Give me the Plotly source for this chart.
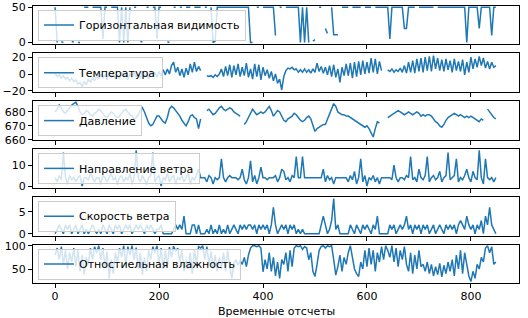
import plotly.graph_objects as go
from plotly.subplots import make_subplots

N = None
# time index (every 4th sample of the series, 0..848)
t = list(range(0, 849, 4))

names = ["Горизонтальная видимость", "Температура", "Давление",
         "Направление ветра", "Скорость ветра", "Отностиельная влажность"]

visibility = [
    50, 0, N, 1, 0, N, N, N, 1, 1,
    N, 0, 0, N, 50, 50, 50, N, 50, 50,
    50, 50, 50, 5, 50, 50, N, 50, 50, 50,
    50, 0, 50, 0, 50, 0, 50, N, 50, 50,
    N, 1, 1, N, 50, 50, N, 50, 50, 5,
    50, 50, N, N, 1, 0, N, 50, 50, N,
    50, 50, N, 50, 50, 50, N, 50, 50, 50,
    50, N, 50, 50, N, 50, 0, 2, 50, 50,
    50, 50, 50, 50, 50, 50, 50, 50, 50, 50,
    50, 50, 50, 50, 0, 0, N, 50, 50, N,
    50, 50, 50, 50, 50, 50, 10, N, 50, 50,
    N, 50, 50, 50, 50, 50, 50, 50, 0, 50,
    0, 50, 0, N, 2, 4, N, 50, 50, N,
    20, 13, N, 50, 11, 11, 11, N, 50, 50,
    50, 50, N, 50, 50, 50, 50, 50, N, 50,
    50, 50, 50, N, 50, 50, 50, 50, 50, 50,
    50, 5, 50, 50, 50, 50, 50, 50, 20, 20,
    50, 50, 50, 50, N, 50, 50, 50, 50, 50,
    50, 50, 50, N, 50, 50, 50, 50, 50, 50,
    50, 50, 50, 50, 50, 50, 50, 50, 0, 50,
    50, 50, 50, 50, 20, 50, 50, 50, 50, 50,
    10, 50, 50]

temperature = [
    0, -3, -1, -5, -2, -6, -4, -8, -5, -9,
    -7, -12, -10, -15, -9, -13, -6, -10, -4, -8,
    -2, -6, 0, -5, -1, -7, 1, -4, 0, -6,
    -1, -6, 2, -4, 0, -7, 1, -5, 2, -3,
    0, -5, 3, -3, 1, -6, 4, -2, 2, -4,
    3, -2, 5, -1, 6, 0, 10, 14, 2, 8,
    -2, 6, -4, 7, -1, 12, 2, 14, 3, 9,
    4, N, N, -2, -3, -2, -4, -1, -3, 0,
    6, -3, 9, -2, 11, -4, 10, -1, 12, -3,
    8, -2, 13, -4, 6, -6, 12, -3, 11, -7,
    8, -2, 5, -5, 3, -8, 0, -11, -6, -19,
    -3, 4, 7, 6, 8, 5, 6, 2, 5, 2,
    6, 2, 5, 1, 6, 2, 13, 3, 9, 1,
    8, -1, 10, -3, 11, -4, 6, -10, 8, -2,
    12, -2, 13, -5, 14, -3, 15, -1, 16, 0,
    14, 1, 19, 2, 18, 0, 15, 4, N, N,
    5, 3, 6, 2, 5, 3, 7, 2, 10, 1,
    14, 2, 16, 1, 18, 3, 19, 2, 20, 4,
    21, 3, 22, 6, 19, 4, 17, 3, 18, 5,
    16, 2, 18, 4, 15, 3, 17, -1, 14, 2,
    20, 6, 18, 8, 21, 10, 19, 7, 15, 6,
    14, 8, 10]

pressure = [
    680, 682, 685, 683, 680, 679, 681, 683, 685, 686,
    687, 684, 680, 678, 679, 681, 680, 678, 677, 679,
    680, 682, 681, 679, 677, 676, 678, 680, 679, 677,
    676, 677, 679, 681, 682, 680, 678, 677, 675, 676,
    678, 681, 683, 680, 676, 672, 670, 671, 674, 677,
    677, 675, 673, 672, 676, 682, 684, 683, 681, 679,
    677, 674, 672, 670, 673, 677, 678, 676, 675, 668,
    675, N, N, 681, 682, 680, 678, 679, 681, 683,
    684, 682, 681, 682, 683, 682, 680, 679, 678, 677,
    N, 671, 673, 676, 679, 682, 680, 678, 679, 680,
    679, 680, 682, 684, 681, 677, 679, 681, 680, 677,
    674, 673, 675, 676, 677, 679, 678, 676, 674, 673,
    674, 676, 677, 675, 671, 666, 668, 669, 670, 671,
    671, 675, 679, 683, 686, 684, 680, 679, 678, 678,
    677, 677, 676, 675, 674, 673, 672, 671, 670, 669,
    670, 668, 665, 662, 668, 673, 672, N, N, N,
    676, 677, 678, 679, 680, 681, 680, 679, 678, 679,
    680, 679, 678, 679, 680, 679, 677, 678, 677, 678,
    678, 677, 675, 673, 672, 670, 669, 671, 674, 676,
    677, 678, 679, 678, 677, 678, 677, 676, 677, 676,
    677, 676, 675, 674, 673, 675, 674, N, 682, 680,
    678, 676, 675]

wind_dir = [
    4, 2, 5, 3, 16, 4, 1, 5, 3, 4,
    2, 4, 5, 0, 4, 4, 3, 6, 4, 2,
    4, 4, 1, 5, 4, 2, 4, 6, 3, 4,
    1, 4, 5, 2, 4, 3, 6, 1, 4, 17,
    4, 2, 5, 3, 1, 4, 5, 16, 2, 4,
    5, 0, 4, 3, 6, 2, 4, 5, 1, 4,
    3, 5, 2, 4, 6, 1, 4, 3, 5, 8,
    4, 4, 4, 2, 5, 4, 1, 4, 3, 4,
    13, 4, 2, 4, 5, 4, 4, 4, 3, 4,
    8, 3, 1, 4, 12, 2, 5, 1, 4, 9,
    4, 4, 3, 4, 4, 4, 5, 2, 4, 8,
    7, 3, 4, 2, 5, 4, 14, 4, 4, 14,
    4, 4, 4, 4, 4, 4, 4, 4, 4, 8,
    2, 5, 3, 4, 1, 4, 4, 4, 4, 4,
    4, 2, 5, 3, 7, 1, 4, 13, 2, 5,
    0, 4, 3, 5, 2, 4, 1, 4, 4, 4,
    4, 4, 3, 10, 4, 2, 4, 4, 3, 5,
    4, 14, 3, 4, 2, 8, 4, 3, 5, 14,
    2, 4, 5, 3, 4, 7, 2, 4, 5, 16,
    3, 4, 5, 13, 2, 4, 3, 5, 8, 4,
    2, 7, 4, 3, 17, 4, 1, 13, 4, 3,
    4, 2, 4]

wind_speed = [
    0, 1, 2, 1, 0, 2, 1, 2, 0, 1,
    2, 0, 1, 2, 0, 1, 0, 1, 2, 1,
    0, 1, 0, 2, 1, 0, 2, 1, 0, 2,
    1, 2, 0, 1, 2, 1, 2, 0, 1, 2,
    1, 2, 1, 0, 2, 1, 2, 1, 0, 1,
    1, 2, 0, 0, 0, 0, 0, 1, 2, 1,
    2, 1, 4, 0, 0, 0, 2, 2, 0, 2,
    0, 0, 0, 1, 0, 2, 0, 1, 0, 2,
    0, 1, 0, 2, 0, 1, 2, 1, 0, 2,
    1, 2, 1, 2, 2, 1, 2, 0, 2, 1,
    2, 1, 2, 0, 2, 6, 2, 0, 1, 2,
    1, 2, 0, 2, 1, 2, 0, 1, 0, 1,
    0, 0, 0, 0, 0, 0, 0, 0, 2, 4,
    2, 0, 1, 3, 8, 1, 2, 0, 0, 0,
    0, 0, 2, 1, 0, 2, 1, 0, 2, 1,
    2, 1, 0, 2, 1, 4, 0, 0, 0, 0,
    0, 2, 1, 2, 0, 1, 2, 1, 2, 4,
    1, 2, 0, 2, 1, 2, 0, 2, 1, 2,
    0, 1, 2, 0, 1, 2, 1, 0, 2, 1,
    2, 1, 2, 0, 2, 3, 2, 1, 4, 2,
    1, 2, 0, 2, 1, 3, 0, 4, 2, 6,
    2, 1, 0]

humidity = [
    80, 95, 70, 98, 60, 90, 50, 85, 65, 95,
    55, 90, 45, 80, 38, 75, 60, 95, 70, 98,
    85, 100, 70, 95, 55, 88, 30, 70, 40, 85,
    65, 95, 75, 100, 60, 98, 80, 100, 70, 96,
    50, 85, 38, 75, 45, 90, 70, 98, 85, 100,
    60, 95, 50, 90, 55, 97, 75, 99, 88, 95,
    65, 90, 45, 70, 50, 85, 40, 92, 60, 98,
    95, 100, 70, 98, 60, 88, 50, 80, 45, 75,
    50, 85, 45, 90, 55, 30, 62, 70, 58, 68,
    60, 75, 55, 80, 95, 100, 100, 98, 100, 95,
    44, 70, 50, 85, 45, 75, 35, 65, 30, 70,
    60, 85, 45, 90, 55, 95, 100, 98, 100, 92,
    98, 95, 70, 85, 45, 34, 60, 90, 98, 100,
    95, 100, 98, 100, 70, 37, 55, 80, 45, 75,
    60, 85, 100, 70, 50, 40, 34, 65, 50, 90,
    55, 95, 60, 90, 45, 85, 65, 98, 70, 100,
    90, 75, 100, 65, 95, 55, 90, 70, 98, 60,
    45, 85, 40, 80, 50, 90, 55, 60, 45, 65,
    40, 60, 35, 55, 38, 62, 33, 58, 40, 65,
    45, 70, 35, 80, 50, 90, 40, 85, 55, 35,
    23, 45, 30, 60, 50, 75, 65, 95, 100, 85,
    98, 60, 65]

series = [visibility, temperature, pressure, wind_dir, wind_speed, humidity]
y_tickvals = [[0, 50], [-20, 0, 20], [660, 670, 680], [0, 10], [0, 5], [50, 100]]
x_tickvals = [0, 200, 400, 600, 800]
x_label = "Временные отсчеты"

# layout constants (pixels)
W, H = 528, 318
L, R = 33, 9
tops = [5.5, 53.3, 101.1, 148.9, 196.7, 244.5]
ph = 38.8
yranges = [[-2.5, 52.5], [-21.5, 24.6], [659.9, 687.8], [-0.8, 17.7], [-0.4, 8.4], [19.3, 102.6]]

FONT = dict(family="DejaVu Sans", size=11, color="#000000")
BLUE = "#1f77b4"

fig = make_subplots(rows=6, cols=1, shared_xaxes=True)

for k in range(6):
    legname = "legend" if k == 0 else f"legend{k+1}"
    fig.add_trace(go.Scatter(x=t, y=series[k], mode="lines", name=names[k],
                             line=dict(color=BLUE, width=1.5),
                             connectgaps=False, legend=legname, showlegend=True),
                  row=k + 1, col=1)
    top = tops[k]
    bot = top + ph
    yax = "yaxis" if k == 0 else f"yaxis{k+1}"
    xax = "xaxis" if k == 0 else f"xaxis{k+1}"
    fig.layout[yax].update(domain=[1 - bot / H, 1 - top / H], range=yranges[k],
                           tickvals=y_tickvals[k], ticks="outside", ticklen=4,
                           tickcolor="#000", tickwidth=1, showline=True, mirror=True,
                           linecolor="#000", linewidth=1, showgrid=False, zeroline=False,
                           tickfont=FONT, automargin=False)
    fig.layout[xax].update(range=[-42.5, 892.5], tickvals=x_tickvals, ticks="outside",
                           ticklen=4, tickcolor="#000", tickwidth=1, showline=True,
                           mirror=True, linecolor="#000", linewidth=1, showgrid=False,
                           zeroline=False, tickfont=FONT, automargin=False,
                           showticklabels=(k == 5))
    fig.layout[legname] = dict(x=0.0103, y=1 - (top + 4.0) / H, xanchor="left",
                               yanchor="top", bgcolor="rgba(255,255,255,0.8)",
                               bordercolor="#cccccc", borderwidth=1, font=FONT)

fig.layout["xaxis6"].update(ticklabelstandoff=-2)

fig.add_annotation(text=x_label, xref="paper", yref="paper",
                   x=0.5, y=(H - 311) / H, xanchor="center", yanchor="middle",
                   showarrow=False, font=FONT)

fig.update_layout(width=W, height=H, margin=dict(l=L, r=R, t=0, b=0),
                  plot_bgcolor="white", paper_bgcolor="white", font=FONT,
                  showlegend=True, template=None)

fig.write_html("out.html", config={"displayModeBar": False},
               post_script="document.body.style.margin='0';")
